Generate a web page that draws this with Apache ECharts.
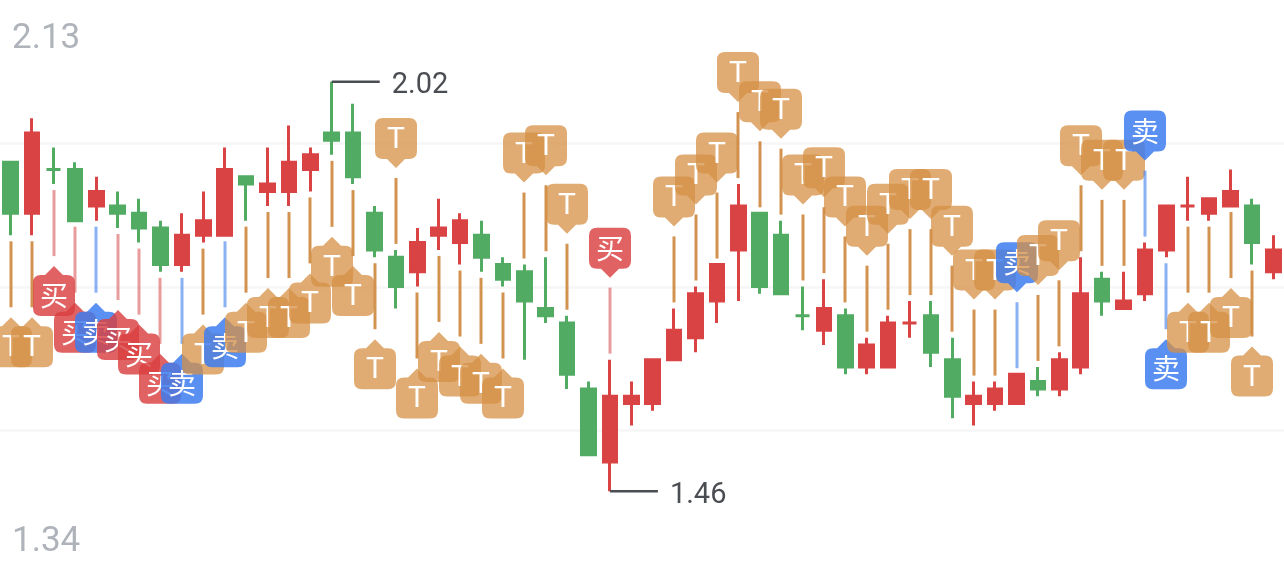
<!DOCTYPE html>
<html><head><meta charset="utf-8">
<style>html,body{margin:0;padding:0;background:#fff}#c{width:1284px;height:574px}</style>
<script src="https://cdn.jsdelivr.net/npm/echarts@6/dist/echarts.min.js"></script>
</head><body><div id="c"></div>
<script>
const opens  = [1.91,1.84,1.90,1.90,1.85,1.85,1.84,1.82,1.77,1.81,1.81,1.89,1.87,1.87,1.90,1.95,1.95,1.84,1.78,1.76,1.81,1.80,1.81,1.77,1.76,1.71,1.69,1.60,1.50,1.58,1.58,1.64,1.67,1.72,1.79,1.84,1.81,1.70,1.68,1.70,1.63,1.63,1.69,1.70,1.64,1.58,1.58,1.58,1.61,1.60,1.63,1.75,1.71,1.73,1.79,1.85,1.84,1.85,1.85,1.76];
const closes = [1.84,1.95,1.90,1.83,1.87,1.84,1.82,1.77,1.81,1.83,1.90,1.88,1.88,1.91,1.92,1.94,1.89,1.79,1.74,1.80,1.82,1.83,1.78,1.75,1.72,1.70,1.62,1.51,1.59,1.59,1.64,1.68,1.73,1.77,1.85,1.74,1.73,1.70,1.71,1.63,1.66,1.69,1.69,1.65,1.59,1.59,1.60,1.62,1.60,1.64,1.73,1.72,1.72,1.79,1.85,1.85,1.86,1.87,1.80,1.79];
const lows   = [1.81,1.81,1.88,1.83,1.83,1.82,1.80,1.76,1.76,1.80,1.81,1.83,1.85,1.85,1.87,1.92,1.88,1.78,1.71,1.74,1.79,1.77,1.76,1.74,1.64,1.69,1.60,1.51,1.46,1.55,1.57,1.64,1.65,1.69,1.72,1.73,1.73,1.68,1.66,1.62,1.62,1.63,1.67,1.63,1.56,1.55,1.57,1.58,1.59,1.59,1.62,1.70,1.71,1.72,1.78,1.83,1.83,1.85,1.77,1.75];
const highs  = [1.91,1.97,1.93,1.91,1.89,1.87,1.86,1.83,1.84,1.87,1.93,1.89,1.93,1.96,1.93,2.02,1.99,1.85,1.79,1.82,1.86,1.84,1.83,1.78,1.77,1.78,1.70,1.61,1.64,1.61,1.64,1.71,1.74,1.77,1.88,1.84,1.83,1.74,1.75,1.71,1.67,1.70,1.72,1.72,1.67,1.61,1.61,1.62,1.63,1.65,1.78,1.76,1.76,1.80,1.85,1.89,1.86,1.90,1.86,1.81];
const categories = opens.map((_, i) => String(i + 1));
const markerKinds = ['T','T','买','买','卖','买','买','买','卖','T','卖','T','T','T','T','T','T','T','T','T','T','T','T','T','T','T','T','','买','','','T','T','T','T','T','T','T','T','T','T','T','T','T','T','T','T','卖','T','T','T','T','T','卖','卖','T','T','T','T',''];
const markerSides = ['low','low','low','low','low','low','low','low','low','low','low','low','low','low','low','low','low','low','high','low','low','low','low','low','high','high','high','','high','','','high','high','high','high','high','high','high','high','high','high','high','high','high','high','high','high','high','high','high','high','high','high','high','low','low','low','low','low','' ];
const extremeIndexes = [15, 28];
const extremeValues = [2.02, 1.46];
const yTickLabels = ['2.13', '1.34'];
const priceTop = 2.1317, priceBottom = 1.3469;

const UP = '#D94343', DOWN = '#52AB62';
const kindStyle = {
  'T':  {fill:'rgba(214,144,68,0.75)', line:'rgba(206,138,66,0.92)', font:'400 30px Roboto', dy:2},
  '买': {fill:'rgba(217,64,64,0.82)',  line:'rgba(217,90,90,0.6)',  font:'400 28px "Noto Sans CJK SC"', dy:0},
  '卖': {fill:'rgba(61,125,238,0.85)', line:'rgba(61,125,238,0.6)', font:'400 28px "Noto Sans CJK SC"', dy:0}
};
const pinDown = 'M-13,-50 L13,-50 Q21,-50 21,-42 L21,-17 Q21,-9 13,-9 L9,-9 L0,0 L-9,-9 L-13,-9 Q-21,-9 -21,-17 L-21,-42 Q-21,-50 -13,-50 Z';
const pinUp   = 'M-13,50 L13,50 Q21,50 21,42 L21,17 Q21,9 13,9 L9,9 L0,0 L-9,9 L-13,9 Q-21,9 -21,17 L-21,42 Q-21,50 -13,50 Z';

const markerData = [];
markerKinds.forEach((k, i) => { if (k) markerData.push([i, markerSides[i] === 'high' ? highs[i] : lows[i], markerSides[i] === 'high' ? 1 : -1, k]); });

function renderMarker(params, api) {
  const p = api.coord([api.value(0), api.value(1)]);
  const dir = api.value(2);               // 1 = above the candle, -1 = below
  const k = markerData[params.dataIndex][3];
  const st = kindStyle[k];
  const x = Math.round(p[0]);
  const lineA = p[1] - dir * 6, lineB = p[1] - dir * 72, tip = p[1] - dir * 82;
  return {type:'group', children:[
    {type:'line', shape:{x1:x, y1:lineA, x2:x, y2:lineB}, style:{stroke:st.line, lineWidth:3}},
    {type:'path', shape:{pathData: dir > 0 ? pinDown : pinUp, x:x-21, y: dir > 0 ? tip-50 : tip, width:42, height:50},
      style:{fill:st.fill}},
    {type:'text', style:{text:k, x:x, y: tip - dir*29.5 + st.dy, fill:'#fff', font:st.font, align:'center', verticalAlign:'middle'}}
  ]};
}
function renderExtreme(params, api) {
  const v = api.value(1);
  const p = api.coord([api.value(0), v]);
  const x = p[0] , y = p[1];
  return {type:'group', children:[
    {type:'line', shape:{x1:x, y1:y, x2:x+48, y2:y}, style:{stroke:'#4A4D52', lineWidth:2.6}},
    {type:'text', style:{text:v.toFixed(2), x:x+60, y:y+4.5, fill:'#4A4D52', font:'400 29px Roboto', align:'left', verticalAlign:'middle'}}
  ]};
}

const chart = echarts.init(document.getElementById('c'), null, {width:1284, height:574});
chart.setOption({
  animation:false,
  backgroundColor:'#fff',
  grid:{left:0, right:0, top:-2, height:576, containLabel:false},
  xAxis:{type:'category', data:categories, boundaryGap:true, show:false},
  yAxis:[
    {type:'value', min:priceBottom, max:priceTop, show:false, splitLine:{show:false}},
    {type:'value', min:0, max:4, interval:1, axisLine:{show:false}, axisTick:{show:false}, axisLabel:{show:false},
      splitLine:{show:true, showMinLine:false, showMaxLine:false, lineStyle:{color:'#F6F6F6', width:2.5}}}
  ],
  graphic:[
    {type:'text', left:12, top:22, style:{text:yTickLabels[0], fill:'#AFB3BA', font:'400 35px Roboto'}},
    {type:'text', left:12, top:525, style:{text:yTickLabels[1], fill:'#AFB3BA', font:'400 35px Roboto'}}
  ],
  series:[
    {type:'candlestick', barWidth:14, clip:false,
      itemStyle:{color:UP, color0:DOWN, borderColor:UP, borderColor0:DOWN, borderWidth:3},
      data:opens.map((o,i)=>[o, closes[i], lows[i], highs[i]])},
    {type:'custom', renderItem:renderMarker, data:markerData.map(d=>d.slice(0,3)), z:3, clip:false,
      encode:{x:0,y:1}},
    {type:'custom', renderItem:renderExtreme, data:extremeIndexes.map((ix,i)=>[ix, extremeValues[i]]), z:4, clip:false,
      encode:{x:0,y:1}}
  ]
});
</script></body></html>
